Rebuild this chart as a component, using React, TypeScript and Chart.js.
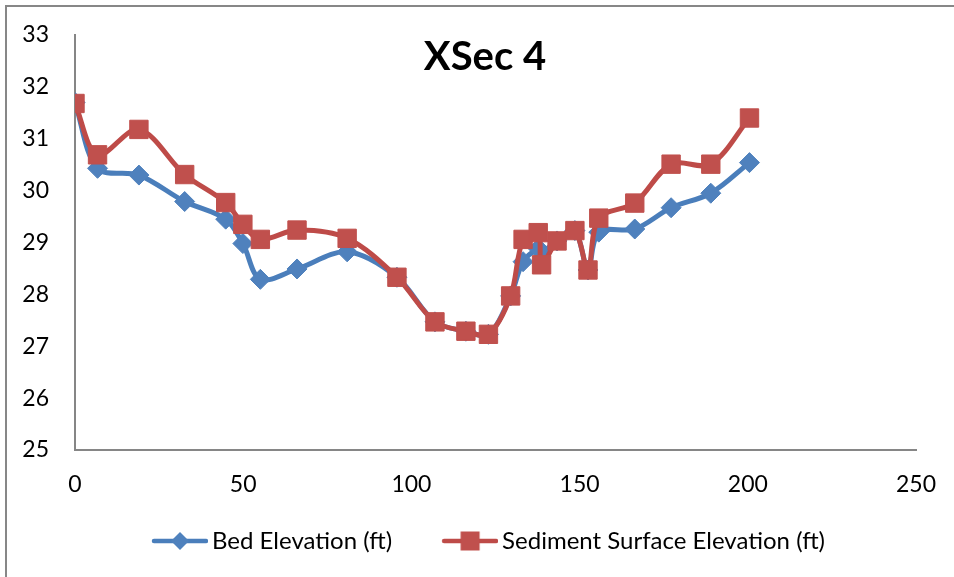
import React, { useEffect, useRef } from 'react';
import { Chart, registerables } from 'chart.js';

Chart.register(...registerables);

// ---- data ----
const stations = [0, 6.7, 19, 32.6, 44.8, 49.9, 55.1, 66, 80.9, 95.7, 107, 116.2, 122.9, 129.5, 133.2, 137.7, 138.7, 143.3, 148.6, 152.5, 155.7, 166.4, 177.2, 189, 200.5];
const bedElevation = [31.7, 30.43, 30.3, 29.79, 29.45, 28.98, 28.29, 28.49, 28.82, 28.33, 27.47, 27.29, 27.23, 27.97, 28.63, 28.88, 28.82, 29.03, 29.23, 28.47, 29.2, 29.26, 29.67, 29.95, 30.54];
const sedimentElevation = [31.68, 30.69, 31.18, 30.31, 29.77, 29.35, 29.06, 29.24, 29.08, 28.33, 27.47, 27.29, 27.23, 27.97, 29.06, 29.19, 28.57, 29.03, 29.23, 28.47, 29.47, 29.76, 30.51, 30.51, 31.4];
const seriesNames = ['Bed Elevation (ft)', 'Sediment Surface Elevation (ft)'];
const chartTitle = 'XSec 4';
const xMin = 0, xMax = 250, xStep = 50;
const yMin = 25, yMax = 33, yStep = 1;

const BLUE_LINE = '#4A7EBB';
const BLUE_FILL = '#4F81BD';
const RED_LINE = '#BE4B48';
const RED_FILL = '#C0504D';
const FONT = 'Lato, "Open Sans", sans-serif';

function makeLegendIcon(lineColor: string, fill: string, shape: 'diamond' | 'square') {
  const c = document.createElement('canvas');
  c.width = 84;
  c.height = 22;
  const ctx = c.getContext('2d')!;
  ctx.strokeStyle = lineColor;
  ctx.lineWidth = 4.5;
  ctx.lineCap = 'round';
  ctx.beginPath();
  ctx.moveTo(30, 11);
  ctx.lineTo(82, 11);
  ctx.stroke();
  ctx.fillStyle = fill;
  ctx.beginPath();
  const cx = 56;
  if (shape === 'diamond') {
    ctx.moveTo(cx, 2);
    ctx.lineTo(cx + 9, 11);
    ctx.lineTo(cx, 20);
    ctx.lineTo(cx - 9, 11);
    ctx.closePath();
  } else {
    ctx.rect(cx - 9.5, 1.5, 19, 19);
  }
  ctx.fill();
  return c;
}

export default function App() {
  const ref = useRef<HTMLCanvasElement>(null);

  useEffect(() => {
    if (!ref.current) return;
    const blueIcon = makeLegendIcon(BLUE_LINE, BLUE_FILL, 'diamond');
    const redIcon = makeLegendIcon(RED_LINE, RED_FILL, 'square');

    const overlayPlugin = {
      id: 'overlayTitle',
      beforeDraw(chart: any) {
        if (chart.legend) {
          chart.legend.left = 41;
        }
      },
      afterDraw(chart: any) {
        const ctx = chart.ctx;
        ctx.save();
        ctx.font = `bold 40px ${FONT}`;
        ctx.fillStyle = '#000';
        ctx.textAlign = 'center';
        ctx.textBaseline = 'middle';
        ctx.fillText(chartTitle, 485, 57);
        ctx.restore();
      },
    };

    const chart = new Chart(ref.current, {
      type: 'line',
      data: {
        datasets: [
          {
            label: seriesNames[0],
            data: stations.map((x, i) => ({ x, y: bedElevation[i] })),
            borderColor: BLUE_LINE,
            backgroundColor: BLUE_FILL,
            borderWidth: 5,
            pointStyle: 'rectRot',
            pointRadius: 10,
            pointBorderWidth: 1,
            pointBorderColor: BLUE_FILL,
            pointBackgroundColor: BLUE_FILL,
            tension: 0.33,
            order: 2,
          },
          {
            label: seriesNames[1],
            data: stations.map((x, i) => ({ x, y: sedimentElevation[i] })),
            borderColor: RED_LINE,
            backgroundColor: RED_FILL,
            borderWidth: 5,
            pointStyle: 'rect',
            pointRadius: 13,
            pointBorderWidth: 1,
            pointBorderColor: RED_FILL,
            pointBackgroundColor: RED_FILL,
            tension: 0.33,
            order: 1,
          },
        ],
      },
      options: {
        responsive: false,
        animation: false,
        devicePixelRatio: 1,
        layout: { padding: { left: 0, right: 38, top: 35, bottom: 14 } },
        scales: {
          x: {
            type: 'linear',
            min: xMin,
            max: xMax,
            grid: { display: false },
            border: { display: true, color: '#868686', width: 2 },
            ticks: {
              stepSize: xStep,
              padding: 13,
              color: '#000',
              font: { family: FONT, size: 23 },
              maxRotation: 0,
            },
            afterFit(scale: any) {
              scale.height = 49;
            },
          },
          y: {
            type: 'linear',
            min: yMin,
            max: yMax,
            grid: { display: false },
            border: { display: true, color: '#868686', width: 2 },
            ticks: {
              stepSize: yStep,
              padding: 18,
              color: '#000',
              font: { family: FONT, size: 23 },
            },
            afterFit(scale: any) {
              scale.width = 75;
            },
          },
        },
        plugins: {
          title: { display: false },
          tooltip: { enabled: false },
          legend: {
            display: true,
            position: 'bottom',
            labels: {
              usePointStyle: true,
              pointStyleWidth: 68,
              padding: 30,
              color: '#000',
              font: { family: FONT, size: 24 },
              generateLabels() {
                return [
                  { text: seriesNames[0], pointStyle: blueIcon, fillStyle: BLUE_FILL, strokeStyle: BLUE_LINE, lineWidth: 0, hidden: false, datasetIndex: 0, fontColor: '#000' },
                  { text: seriesNames[1], pointStyle: redIcon, fillStyle: RED_FILL, strokeStyle: RED_LINE, lineWidth: 0, hidden: false, datasetIndex: 1, fontColor: '#000' },
                ] as any;
              },
            },
          },
        },
      } as any,
      plugins: [overlayPlugin],
    });
    return () => chart.destroy();
  }, []);

  return (
    <div style={{ position: 'absolute', left: 0, top: 0, width: 954, height: 577, background: '#fff', overflow: 'hidden' }}>
      <div
        style={{
          position: 'absolute',
          left: 5,
          top: 5,
          width: 1000,
          height: 700,
          borderLeft: '2px solid #878787',
          borderTop: '2px solid #878787',
        }}
      />
      <canvas ref={ref} width={954} height={577} style={{ position: 'absolute', left: 0, top: 0 }} />
    </div>
  );
}
